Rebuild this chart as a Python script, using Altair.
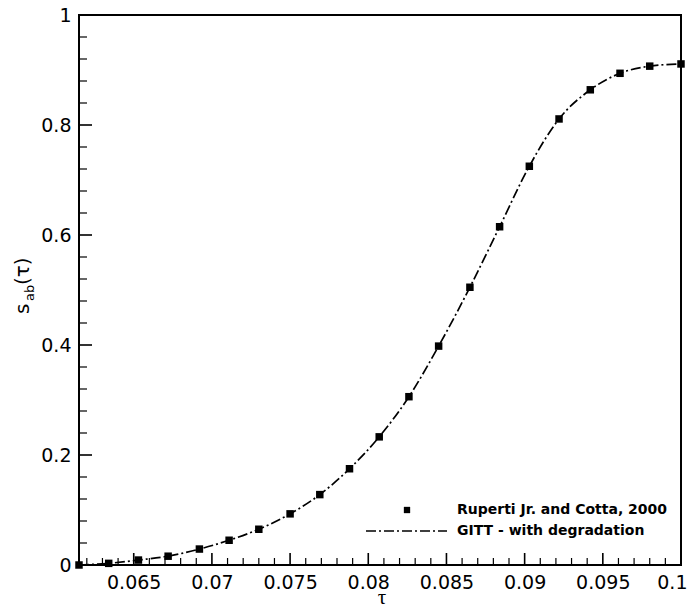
import altair as alt
import pandas as pd

# Data
tau = [0.0615, 0.0634, 0.0653, 0.0672, 0.0692, 0.0711, 0.0730, 0.0750, 0.0769, 0.0788,
       0.0807, 0.0826, 0.0845, 0.0865, 0.0884, 0.0903, 0.0922, 0.0942, 0.0961, 0.0980, 0.1000]
s_ref = [0.000, 0.003, 0.009, 0.016, 0.029, 0.045, 0.065, 0.093, 0.128, 0.175,
         0.233, 0.306, 0.398, 0.505, 0.615, 0.725, 0.811, 0.864, 0.894, 0.907, 0.911]
s_gitt = [0.000, 0.003, 0.009, 0.016, 0.029, 0.045, 0.065, 0.093, 0.128, 0.175,
          0.233, 0.306, 0.398, 0.505, 0.615, 0.725, 0.811, 0.864, 0.894, 0.907, 0.911]

x_major = [0.065, 0.07, 0.075, 0.08, 0.085, 0.09, 0.095, 0.1]
x_minor = [0.062, 0.063, 0.064, 0.066, 0.067, 0.068, 0.069, 0.071, 0.072, 0.073, 0.074,
           0.076, 0.077, 0.078, 0.079, 0.081, 0.082, 0.083, 0.084, 0.086, 0.087, 0.088,
           0.089, 0.091, 0.092, 0.093, 0.094, 0.096, 0.097, 0.098, 0.099]
y_major = [0, 0.2, 0.4, 0.6, 0.8, 1.0]
y_minor = [0.04, 0.08, 0.12, 0.16, 0.24, 0.28, 0.32, 0.36, 0.44, 0.48, 0.52, 0.56,
           0.64, 0.68, 0.72, 0.76, 0.84, 0.88, 0.92, 0.96]

legend_labels = ["Ruperti Jr. and Cotta, 2000", "GITT - with degradation"]

W, H = 602, 550
FONT = "DejaVu Sans"
DASH = [10, 3, 2, 3]

xscale = alt.Scale(domain=[0.0615, 0.1], nice=False, zero=False)
yscale = alt.Scale(domain=[0, 1], nice=False, zero=False)

xaxis = alt.Axis(values=x_major, format=".3~f", ticks=False, domain=False, grid=False,
                 labelFont=FONT, labelFontSize=19, labelColor="black", labelPadding=8,
                 labelOverlap=False, labelBound=False, labelFlush=True, labelFlushOffset=6,
                 title=None)
yaxis = alt.Axis(values=y_major, format=".1~f", ticks=False, domain=False, grid=False,
                 labelFont=FONT, labelFontSize=19, labelColor="black", labelPadding=8,
                 labelOverlap=False, labelBound=False, labelFlush=False, title=None)

df_ref = pd.DataFrame({"tau": tau, "s": s_ref})
df_gitt = pd.DataFrame({"tau": tau, "s": s_gitt})

line = alt.Chart(df_gitt).mark_line(
    color="black", strokeWidth=1.7, strokeDash=DASH, interpolate="monotone"
).encode(
    x=alt.X("tau:Q", scale=xscale, axis=xaxis),
    y=alt.Y("s:Q", scale=yscale, axis=yaxis),
)

points = alt.Chart(df_ref).mark_point(
    shape="square", filled=True, size=56, color="black", opacity=1
).encode(
    x=alt.X("tau:Q", scale=xscale),
    y=alt.Y("s:Q", scale=yscale),
)

xmaj = alt.Chart(pd.DataFrame({"tau": x_major})).mark_rule(color="black", strokeWidth=1.6).encode(
    x=alt.X("tau:Q", scale=xscale), y=alt.value(H), y2=alt.value(H - 12))
xmin = alt.Chart(pd.DataFrame({"tau": x_minor})).mark_rule(color="black", strokeWidth=1.2).encode(
    x=alt.X("tau:Q", scale=xscale), y=alt.value(H), y2=alt.value(H - 7))
ymaj = alt.Chart(pd.DataFrame({"s": y_major})).mark_rule(color="black", strokeWidth=1.6).encode(
    y=alt.Y("s:Q", scale=yscale), x=alt.value(0), x2=alt.value(13))
ymin = alt.Chart(pd.DataFrame({"s": y_minor})).mark_rule(color="black", strokeWidth=1.2).encode(
    y=alt.Y("s:Q", scale=yscale), x=alt.value(0), x2=alt.value(8))

one = pd.DataFrame({"k": [0]})

leg_pt = alt.Chart(one).mark_point(shape="square", filled=True, size=40, color="black", opacity=1).encode(
    x=alt.value(328), y=alt.value(495))
leg_line = alt.Chart(one).mark_rule(color="black", strokeWidth=1.7, strokeDash=DASH).encode(
    x=alt.value(287), x2=alt.value(368), y=alt.value(516))
leg_t1 = alt.Chart(one).mark_text(align="left", baseline="middle", font=FONT, fontSize=14,
                                  fontWeight="bold", color="black").encode(
    x=alt.value(378), y=alt.value(495), text=alt.value(legend_labels[0]))
leg_t2 = alt.Chart(one).mark_text(align="left", baseline="middle", font=FONT, fontSize=14,
                                  fontWeight="bold", color="black").encode(
    x=alt.value(378), y=alt.value(516), text=alt.value(legend_labels[1]))

xtitle = alt.Chart(one).mark_text(align="center", baseline="middle", font="Liberation Serif",
                                  fontSize=21, color="black").encode(
    x=alt.value(303), y=alt.value(583), text=alt.value("τ"))

yt_s = alt.Chart(one).mark_text(align="left", baseline="alphabetic", angle=270, font=FONT,
                                fontSize=20, color="black").encode(
    x=alt.value(-50), y=alt.value(299), text=alt.value("s"))
yt_ab = alt.Chart(one).mark_text(align="left", baseline="alphabetic", angle=270, font=FONT,
                                 fontSize=13, color="black").encode(
    x=alt.value(-45), y=alt.value(286), text=alt.value("ab"))
yt_tau = alt.Chart(one).mark_text(align="left", baseline="alphabetic", angle=270, font=FONT,
                                  fontSize=20, color="black").encode(
    x=alt.value(-50), y=alt.value(270), text=alt.value("(τ)"))

chart = alt.layer(
    line, points, xmaj, xmin, ymaj, ymin, leg_pt, leg_line, leg_t1, leg_t2, xtitle, yt_s, yt_ab, yt_tau
).properties(
    width=W, height=H,
    autosize=alt.AutoSizeParams(type="none"),
    padding={"left": 71, "top": 7, "right": 6, "bottom": 41},
    background="white",
).configure_view(
    stroke="black", strokeWidth=2
)

chart.save("out.html", embed_options={"renderer": "svg", "actions": False})
